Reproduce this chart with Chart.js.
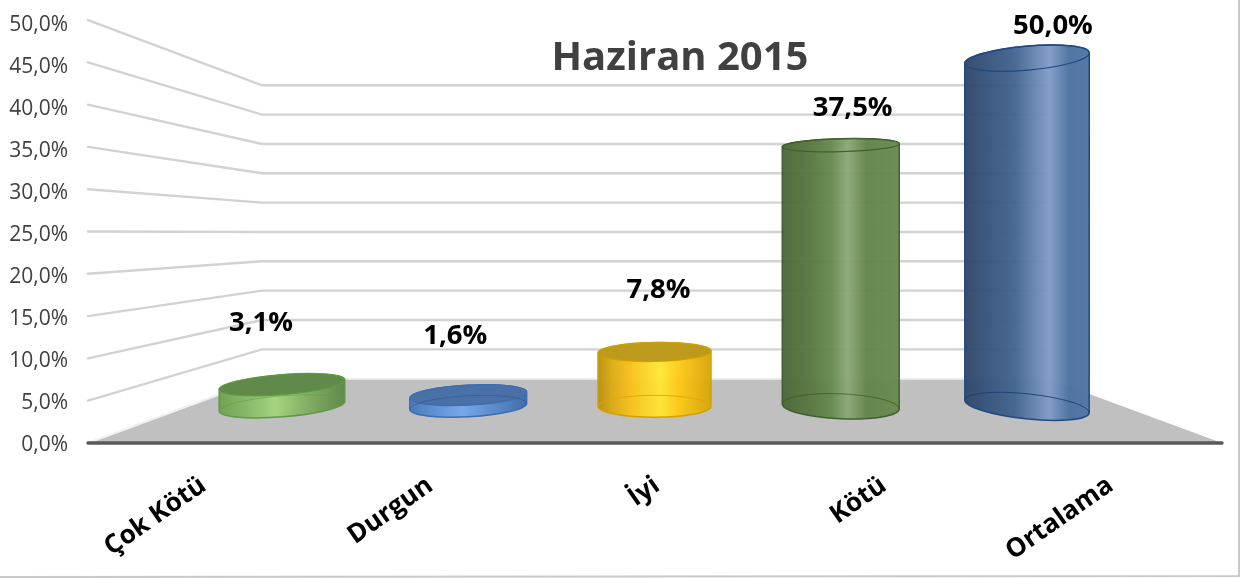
<!DOCTYPE html>
<html><head><meta charset="utf-8">
<style>html,body{margin:0;padding:0;background:#fff}#w{width:1241px;height:578px;position:relative}canvas{display:block}</style>
<script src="https://cdn.jsdelivr.net/npm/chart.js@4"></script>
</head><body><div id="w"><canvas id="c" width="1241" height="578"></canvas></div>
<script>
const chartTitle = 'Haziran 2015';
const categories = ['Çok Kötü','Durgun','İyi','Kötü','Ortalama'];
const values = [3.1,1.6,7.8,37.5,50.0];
const tickStep = 5;
const axisMax = 50;
const baseColors = ['#7fb45f','#5b8fd6','#f5c211','#62854a','#44689a'];

// appearance of each cylinder
const cylStyles = [
 {w:126,topTilt:-4.5,botTilt:-4.5,topRy:10,botRy:10.5,border:'#5f9a42',cap:'#5f8a4a',inner:'rgba(95,154,66,.55)',
  stops:[[0,'#6f9f52'],[.2,'#82b663'],[.45,'#a2d57c'],[.7,'#7fae60'],[1,'#5d8647']]},
 {w:117,topTilt:-3,botTilt:-3,topRy:10,botRy:10.5,border:'#3b6db2',cap:'#4a70a8',inner:'rgba(50,90,150,.7)',
  stops:[[0,'#4677ba'],[.2,'#5a8ed3'],[.45,'#76a7ec'],[.7,'#5a8bcf'],[1,'#3d69a8']]},
 {w:113,topTilt:-1,botTilt:0,topRy:9.5,botRy:11,border:'#d2a100',cap:'#bd9a1c',inner:'rgba(220,170,0,.9)',
  stops:[[0,'#b88f0e'],[.12,'#dba912'],[.3,'#f9c21a'],[.55,'#ffe733'],[.72,'#fdc815'],[1,'#d8a408']]},
 {w:117,topTilt:-1.5,botTilt:2.5,topRy:6.5,botRy:12.5,border:'#42602f',cap:null,inner:'rgba(60,90,40,.75)',
  stops:[[0,'#4b6737'],[.25,'#587840'],[.42,'#668a4e'],[.56,'#8ba877'],[.72,'#62844a'],[1,'#678a4e']]},
 {w:125,topTilt:-5,botTilt:6,topRy:12,botRy:12.5,border:'#1f4a80',cap:null,inner:'rgba(25,60,110,.85)',
  stops:[[0,'#2e4666'],[.15,'#35517a'],[.4,'#41648f'],[.68,'#7f9cc8'],[.84,'#4c709f'],[1,'#4f74a6']]}
];
// value-label placement relative to each bar top
const labelOffsets = [[-21,-62],[-13,-58.5],[4,-62],[12,-37],[26,-32]];

const FONT = '"Open Sans"';
const BACK_L = 262, BACK_R = 1048, AXIS_L = 88, AXIS_R = 1222;

const cylinderPlugin = {
  id:'cylinder',
  beforeDatasetsDraw(chart){
    const {ctx} = chart, f = chart.scales.yFront, b = chart.scales.yBack;
    ctx.save();
    // floor
    const fy = f.getPixelForValue(0), by = b.getPixelForValue(0);
    ctx.fillStyle = '#c0c0c0';
    ctx.beginPath();
    ctx.moveTo(AXIS_L,fy);ctx.lineTo(BACK_L,by);ctx.lineTo(BACK_R,by);ctx.lineTo(AXIS_R,fy);ctx.closePath();ctx.fill();
    // walls
    ctx.lineCap='round';
    for(let v=tickStep;v<=axisMax;v+=tickStep){
      const y1=f.getPixelForValue(v), y2=b.getPixelForValue(v);
      ctx.strokeStyle='#d2d2d2';ctx.lineWidth=2.4;
      ctx.beginPath();ctx.moveTo(AXIS_L,y1);ctx.lineTo(BACK_L,y2);ctx.lineTo(BACK_R,y2);ctx.stroke();
    }
    // back edge of floor
    ctx.strokeStyle='#f0f0f0';ctx.lineWidth=2;
    ctx.beginPath();ctx.moveTo(AXIS_L,fy);ctx.lineTo(BACK_L,by);ctx.lineTo(BACK_R,by);ctx.stroke();
    // front axis
    ctx.strokeStyle='#595959';ctx.lineWidth=3.5;ctx.lineCap='round';
    ctx.beginPath();ctx.moveTo(AXIS_L,fy);ctx.lineTo(AXIS_R,fy);ctx.stroke();
    ctx.restore();
  },
  beforeDatasetDraw(chart,args){
    const {ctx}=chart, meta=args.meta;
    const rad=d=>d*Math.PI/180;
    meta.data.forEach((el,i)=>{
      const s=cylStyles[i], rx=s.w/2, x=el.x, top=el.y, bot=el.base;
      const g=ctx.createLinearGradient(x-rx,0,x+rx,0);
      s.stops.forEach(p=>g.addColorStop(p[0],p[1]));
      ctx.save();
      // body silhouette
      ctx.beginPath();
      ctx.ellipse(x,top,rx,s.topRy,rad(s.topTilt),Math.PI,2*Math.PI);
      ctx.ellipse(x,bot,rx,s.botRy,rad(s.botTilt),0,Math.PI);
      ctx.closePath();
      ctx.globalAlpha=.96;ctx.fillStyle=g;ctx.fill();
      ctx.globalAlpha=1;
      // silhouette outline
      ctx.strokeStyle=s.border;ctx.lineWidth=1.5;
      ctx.beginPath();
      ctx.ellipse(x,top,rx,s.topRy,rad(s.topTilt),Math.PI,2*Math.PI);
      ctx.ellipse(x,bot,rx,s.botRy,rad(s.botTilt),0,Math.PI);
      ctx.closePath();ctx.stroke();
      // top cap
      ctx.beginPath();ctx.ellipse(x,top,rx,s.topRy,rad(s.topTilt),0,2*Math.PI);
      if(s.cap){ctx.fillStyle=s.cap;ctx.fill();}
      ctx.strokeStyle=s.border;ctx.lineWidth=1.2;ctx.stroke();
      // far rim of the base, seen through the body
      ctx.strokeStyle=s.inner;ctx.lineWidth=1;
      ctx.beginPath();ctx.ellipse(x,bot,rx,s.botRy,rad(s.botTilt),Math.PI,2*Math.PI);ctx.stroke();
      ctx.restore();
    });
    return false;
  },
  afterDatasetsDraw(chart){
    const {ctx}=chart, meta=chart.getDatasetMeta(0);
    ctx.save();
    ctx.textAlign='center';ctx.textBaseline='middle';
    ctx.fillStyle='#000';ctx.font='bold 27.5px '+FONT;
    meta.data.forEach((el,i)=>{
      const o=labelOffsets[i];
      ctx.fillText(values[i].toFixed(1).replace('.',',')+'%',el.x+o[0],el.y+o[1]);
    });
    ctx.fillStyle='#404040';ctx.font='bold 40px '+FONT;
    ctx.fillText(chartTitle,680,59);
    // picture frame
    ctx.strokeStyle='#c9c9c9';ctx.lineWidth=2;
    ctx.beginPath();ctx.moveTo(1239,0);ctx.lineTo(1239,576);ctx.lineTo(0,577);ctx.stroke();
    ctx.restore();
  }
};

new Chart(document.getElementById('c'),{
  type:'bar',
  data:{labels:categories,datasets:[{
    label:chartTitle,
    data:categories.map((c,i)=>({x:i,y:values[i]})),
    backgroundColor:baseColors,
    xAxisID:'xBars',yAxisID:'yBars',barThickness:118
  }]},
  plugins:[cylinderPlugin],
  options:{
    responsive:false,animation:false,
    layout:{padding:{top:25,right:19,left:0,bottom:0}},
    plugins:{legend:{display:false},title:{display:false},tooltip:{enabled:false}},
    scales:{
      x:{type:'category',position:'bottom',offset:true,grid:{display:false,drawTicks:false},border:{display:false},
         afterFit(s){s.height=133;s.paddingLeft=0;s.paddingRight=0;},
         ticks:{color:'#000',font:{family:FONT,weight:'bold',size:26},minRotation:35,maxRotation:35,autoSkip:false,padding:25,labelOffset:2}},
      y:{type:'linear',position:'left',min:0,max:axisMax,grid:{display:false,drawTicks:false},border:{display:false},
         afterFit(s){s.width=88;s.paddingTop=0;s.paddingBottom=0;},
         afterBuildTicks(s){s.ticks=[];for(let v=0;v<=axisMax;v+=tickStep)s.ticks.push({value:v});},
         ticks:{color:'#404040',padding:20,font:{family:FONT,size:21},callback:v=>v.toFixed(1).replace('.',',')+'%'}},
      xBars:{type:'linear',display:false,offset:false,min:-1.0416,max:5.047},
      yBars:{type:'linear',display:false,min:-5.556,max:54.76},
      yFront:{type:'linear',display:false,min:-0.2375,max:49.41},
      yBack:{type:'linear',display:false,min:-11.30,max:60.27}
    }
  }
});
</script></body></html>
